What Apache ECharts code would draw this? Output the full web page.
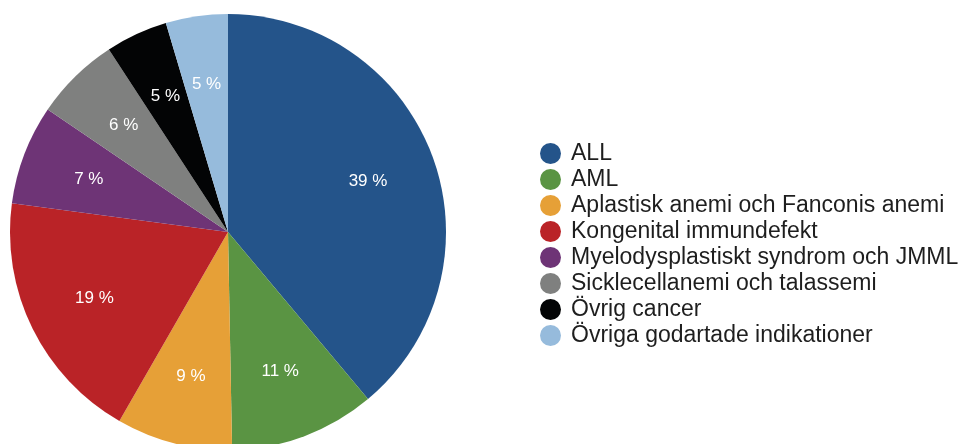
<!DOCTYPE html>
<html>
<head>
<meta charset="utf-8">
<script src="https://cdn.jsdelivr.net/npm/echarts@6/dist/echarts.min.js"></script>
<style>
html,body{margin:0;padding:0;background:#fff;}
#chart{width:967px;height:444px;}
</style>
</head>
<body>
<div id="chart"></div>
<script>
var categories = [
  'ALL',
  'AML',
  'Aplastisk anemi och Fanconis anemi',
  'Kongenital immundefekt',
  'Myelodysplastiskt syndrom och JMML',
  'Sicklecellanemi och talassemi',
  'Övrig cancer',
  'Övriga godartade indikationer'
];
// shares in percent
var shares = [38.9, 10.8, 8.6, 18.8, 7.4, 6.3, 4.6, 4.6];
var colors = ['#24548a', '#5a9443', '#e6a037', '#ba2327', '#6e3476', '#7f807f', '#030405', '#96bbdc'];

var data = categories.map(function (c, i) {
  return { name: c, value: shares[i], itemStyle: { color: colors[i] } };
});

var chart = echarts.init(document.getElementById('chart'), null, { renderer: 'canvas' });
chart.setOption({
  animation: false,
  backgroundColor: '#ffffff',
  legend: {
    orient: 'vertical',
    left: 535,
    top: 137,
    icon: 'circle',
    itemWidth: 21,
    itemHeight: 21,
    itemGap: 3,
    selectedMode: false,
    data: categories,
    textStyle: {
      fontFamily: 'Liberation Sans, Arial, sans-serif',
      fontSize: 23,
      lineHeight: 20,
      color: '#1e1e1e',
      padding: [0, 0, 0, 5]
    }
  },
  series: [
    {
      type: 'pie',
      center: [228, 232],
      radius: [0, 218],
      startAngle: 90,
      clockwise: true,
      silent: true,
      label: { show: false },
      labelLine: { show: false },
      itemStyle: { borderWidth: 0 },
      data: data
    },
    {
      type: 'pie',
      center: [228, 232],
      radius: [74, 218],
      startAngle: 90,
      clockwise: true,
      silent: true,
      itemStyle: { color: 'rgba(0,0,0,0)', borderWidth: 0 },
      label: {
        show: true,
        position: 'inside',
        color: '#ffffff',
        fontFamily: 'Liberation Sans, Arial, sans-serif',
        fontSize: 17,
        formatter: function (p) { return Math.round(p.value) + ' %'; }
      },
      labelLine: { show: false },
      data: categories.map(function (c, i) {
        return { name: c, value: shares[i], itemStyle: { color: 'rgba(0,0,0,0)' } };
      })
    }
  ]
});
</script>
</body>
</html>
